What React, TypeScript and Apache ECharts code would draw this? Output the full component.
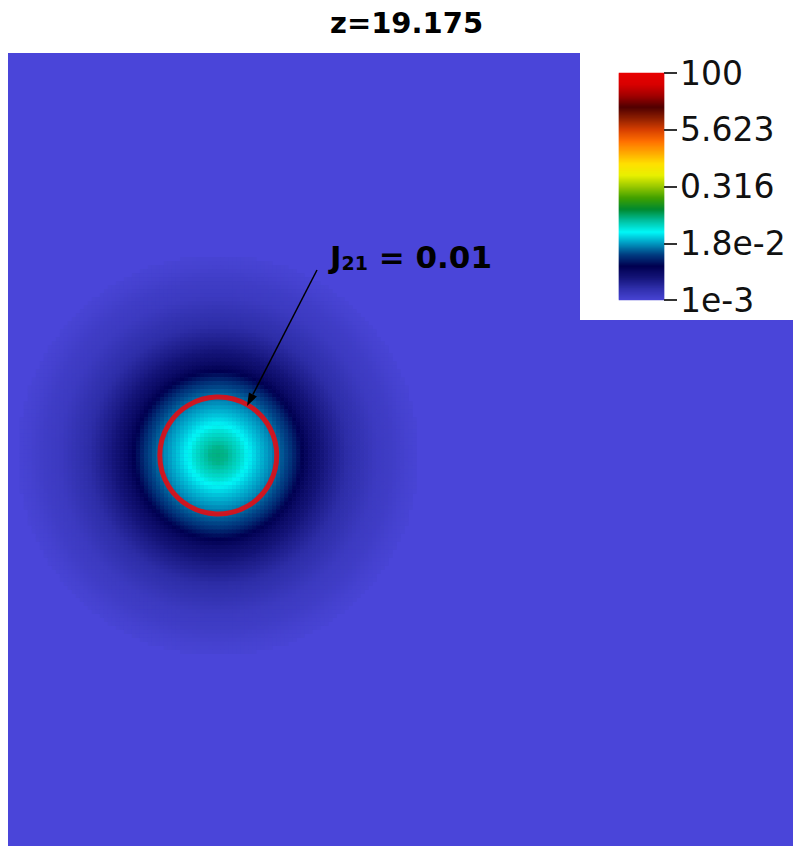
import React, { useEffect, useRef } from "react";
import * as echarts from "echarts";

// ---------- data ----------
const titleText = "z=19.175";
const annotationParts = ["J", "21", " = 0.01"];

// radial profile of the field around the source (radius in field cells, value)
const profileRadius = [0, 2, 4, 6, 7.5, 9.75, 13, 16.5, 18, 20.5, 23, 27.2, 32.2, 35.2, 39.7, 43.4, 47.4, 50];
const profileValue = [0.0668, 0.063, 0.05, 0.04, 0.0316, 0.0237, 0.0168, 0.0112, 0.0094, 0.006, 0.0042, 0.0028, 0.0019, 0.00168, 0.00133, 0.00123, 0.00106, 0.001];

const fieldCols = 196;
const fieldRows = 198;
const fieldCenter = [52, 100]; // cell indices of the source centre
const ringRadius = 14.6; // J21 = 0.01 contour radius, in cells

const colorbarTicks = [0.001, 0.018, 0.316, 5.623, 100];
const colorbarLabels = ["1e-3", "1.8e-2", "0.316", "5.623", "100"];
const colorbarSteps = 227;

// colour map, evenly spaced from 1e-3 (first) to 100 (last)
const colormap = [
  "#4844d4", "#3030ac", "#141478", "#000050", "#003c80", "#0098c0",
  "#00f8f8", "#00c0a0", "#008a30", "#40a000", "#98c800", "#e8f000",
  "#ffe000", "#ffa800", "#ff7000", "#d84000", "#902000", "#500000",
  "#a00000", "#d80000", "#e80000",
];

const BG = "#4a45d9";

function profileAt(r: number): number {
  const n = profileRadius.length;
  if (r >= profileRadius[n - 1]) return Math.log10(profileValue[n - 1]);
  for (let k = 0; k < n - 1; k++) {
    const r0 = profileRadius[k];
    const r1 = profileRadius[k + 1];
    if (r >= r0 && r <= r1) {
      const t = (r - r0) / (r1 - r0);
      const l0 = Math.log10(profileValue[k]);
      const l1 = Math.log10(profileValue[k + 1]);
      return l0 + (l1 - l0) * t;
    }
  }
  return Math.log10(profileValue[n - 1]);
}

export default function App() {
  const ref = useRef<HTMLDivElement>(null);

  useEffect(() => {
    if (!ref.current) return;
    const chart = echarts.init(ref.current, null, { renderer: "svg" });

    const logMin = Math.log10(colorbarTicks[0]);
    const logMax = Math.log10(colorbarTicks[colorbarTicks.length - 1]);

    const colCats = Array.from({ length: fieldCols }, (_, i) => String(i));
    const rowCats = Array.from({ length: fieldRows }, (_, i) => String(i));
    const barCats = Array.from({ length: colorbarSteps }, (_, i) => String(i));

    const maxR = profileRadius[profileRadius.length - 1];
    const field: number[][] = [];
    for (let j = 0; j < fieldRows; j++) {
      for (let i = 0; i < fieldCols; i++) {
        const r = Math.hypot(i - fieldCenter[0], j - fieldCenter[1]);
        if (r < maxR) field.push([i, j, profileAt(r)]);
      }
    }

    const bar: number[][] = [];
    for (let k = 0; k < colorbarSteps; k++) {
      bar.push([0, k, logMin + ((logMax - logMin) * (k + 0.5)) / colorbarSteps]);
    }

    const gridW = 785;
    const cellPx = gridW / fieldCols;

    // arrow geometry (annotation)
    const tip = [247, 406];
    const tail = [317, 270];
    const dx = tip[0] - tail[0];
    const dy = tip[1] - tail[1];
    const len = Math.hypot(dx, dy);
    const ux = dx / len, uy = dy / len;
    const headL = 13, headW = 4.5;
    const base = [tip[0] - headL * ux, tip[1] - headL * uy];
    const px = -uy, py = ux;

    chart.setOption({
      animation: false,
      backgroundColor: "#ffffff",
      title: {
        text: titleText,
        left: 330,
        top: 8,
        padding: 0,
        textStyle: { fontFamily: "DejaVu Sans", fontWeight: "bold", fontSize: 29, color: "#000" },
      },
      grid: [
        { left: 8, top: 53, width: gridW, height: 793, show: true, backgroundColor: BG, borderWidth: 0 },
        { left: 619, top: 73, width: 45, height: 227, show: false },
      ],
      xAxis: [
        { gridIndex: 0, type: "category", data: colCats, show: false },
        { gridIndex: 1, type: "category", data: ["0"], show: false },
      ],
      yAxis: [
        { gridIndex: 0, type: "category", data: rowCats, show: false, inverse: true },
        { gridIndex: 1, type: "category", data: barCats, show: false },
        {
          gridIndex: 1,
          type: "value",
          position: "right",
          min: 0,
          max: colorbarTicks.length - 1,
          interval: 1,
          z: 10,
          axisLine: { show: false },
          axisTick: { show: true, length: 13, lineStyle: { color: "#333", width: 2 } },
          splitLine: { show: false },
          axisLabel: {
            show: true,
            margin: 16,
            fontSize: 33,
            color: "#111",
            fontFamily: "DejaVu Sans",
            showMinLabel: true,
            showMaxLabel: true,
            formatter: (v: number) => colorbarLabels[Math.round(v)] ?? "",
          },
        },
      ],
      visualMap: {
        type: "continuous",
        show: false,
        min: logMin,
        max: logMax,
        dimension: 2,
        seriesIndex: [0, 1],
        inRange: { color: colormap },
      },
      series: [
        {
          type: "heatmap",
          xAxisIndex: 0,
          yAxisIndex: 0,
          data: field,
          progressive: 0,
          silent: true,
          emphasis: { disabled: true },
        },
        {
          type: "heatmap",
          xAxisIndex: 1,
          yAxisIndex: 1,
          data: bar,
          progressive: 0,
          silent: true,
          z: 5,
          emphasis: { disabled: true },
        },
        {
          type: "scatter",
          xAxisIndex: 0,
          yAxisIndex: 0,
          data: [[fieldCenter[0], fieldCenter[1]]],
          symbol: "circle",
          symbolSize: 2 * ringRadius * cellPx,
          silent: true,
          z: 6,
          itemStyle: { color: "rgba(0,0,0,0)", borderColor: "#ff0000", borderWidth: 5 },
        },
      ],
      graphic: [
        {
          type: "rect",
          z: 1,
          silent: true,
          shape: { x: 580, y: 53, width: 213, height: 267 },
          style: { fill: "#ffffff" },
        },
        {
          type: "line",
          z: 20,
          silent: true,
          shape: { x1: tail[0], y1: tail[1], x2: base[0], y2: base[1] },
          style: { stroke: "#000", lineWidth: 1.5 },
        },
        {
          type: "polygon",
          z: 20,
          silent: true,
          shape: {
            points: [
              [tip[0], tip[1]],
              [base[0] + headW * px, base[1] + headW * py],
              [base[0] - headW * px, base[1] - headW * py],
            ],
          },
          style: { fill: "#000" },
        },
        {
          type: "text",
          z: 20,
          silent: true,
          x: 330,
          y: 257,
          style: {
            text: `{a|${annotationParts[0]}}{b|${annotationParts[1]}}{a|${annotationParts[2]}}`,
            verticalAlign: "middle",
            rich: {
              a: { fontSize: 31, fontWeight: "bold", fontFamily: "DejaVu Sans", fill: "#000" },
              b: { fontSize: 19, fontWeight: "bold", fontFamily: "DejaVu Sans", fill: "#000", verticalAlign: "bottom" },
            },
          },
        },
      ],
    });

    return () => chart.dispose();
  }, []);

  return (
    <div
      ref={ref}
      style={{ position: "absolute", left: 0, top: 0, width: 793, height: 846 }}
    />
  );
}
